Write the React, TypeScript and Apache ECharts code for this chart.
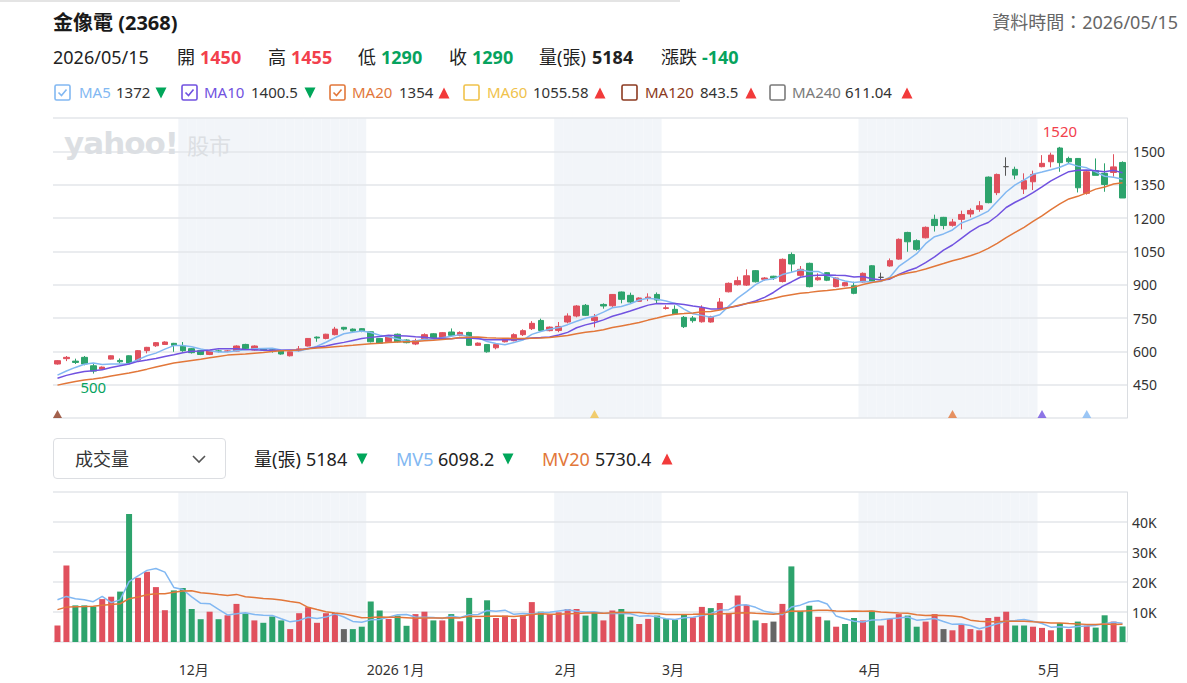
import React, { useEffect, useRef } from "react";
import * as echarts from "echarts";

// ---------- categories (trading days) ----------
const NOV_2025 = [11, 12, 13, 14, 17, 18, 19, 20, 21, 24, 25, 26, 27, 28];
const DEC_2025 = [1, 2, 3, 4, 5, 8, 9, 10, 11, 12, 15, 16, 17, 18, 19, 22, 23, 24, 29, 30, 31];
const JAN_2026 = [2, 5, 6, 7, 8, 9, 12, 13, 14, 15, 16, 19, 20, 21, 22, 23, 26, 27, 28, 29, 30];
const FEB_2026 = [2, 3, 4, 5, 6, 9, 10, 11, 23, 24, 25, 26];
const MAR_2026 = [2, 3, 4, 5, 6, 9, 10, 11, 12, 13, 16, 17, 18, 19, 20, 23, 24, 25, 26, 27, 30, 31];
const APR_2026 = [1, 2, 7, 8, 9, 10, 13, 14, 15, 16, 17, 20, 21, 22, 23, 24, 27, 28, 29, 30];
const MAY_2026 = [4, 5, 6, 7, 8, 11, 12, 13, 14, 15];
const SHADED_MONTHS = ["2025/12", "2026/02", "2026/04"];

// ---------- price data: [open, close, low, high] ----------
const CANDLES = [
  [543, 558, 540, 561], [567, 573, 556, 579], [556, 550, 543, 567], [573, 543, 537, 579], [535, 511, 500, 544],
  [520, 529, 517, 532], [565, 580, 563, 582], [559, 553, 546, 568], [580, 547, 545, 582], [561, 603, 558, 606],
  [603, 618, 591, 620], [625, 639, 620, 642], [631, 642, 629, 645], [636, 627, 598, 638], [624, 603, 598, 642],
  [612, 594, 590, 615], [603, 586, 583, 606], [586, 601, 583, 604], [602, 600, 595, 607], [600, 602, 596, 606],
  [601, 624, 599, 627], [631, 609, 606, 634], [606, 624, 603, 627], [610, 606, 603, 613], [607, 605, 594, 612],
  [603, 588, 585, 606], [580, 598, 577, 600], [608, 611, 598, 624], [624, 658, 622, 660], [664, 660, 643, 667],
  [658, 677, 654, 679], [675, 700, 672, 710], [708, 700, 694, 710], [700, 691, 688, 703], [702, 690, 686, 704],
  [688, 643, 640, 690], [658, 636, 634, 660], [643, 666, 640, 668], [677, 643, 640, 680], [651, 639, 636, 654],
  [633, 648, 628, 657], [657, 675, 654, 681], [679, 660, 657, 682], [663, 684, 660, 687], [687, 672, 666, 703],
  [672, 685, 668, 690], [685, 627, 624, 688], [627, 637, 624, 640], [631, 598, 594, 633], [616, 631, 609, 634],
  [643, 657, 640, 660], [648, 675, 645, 681], [675, 693, 669, 699], [702, 726, 696, 736], [739, 694, 691, 747],
  [693, 709, 690, 712], [694, 712, 686, 732], [732, 759, 726, 771], [759, 804, 753, 808], [807, 762, 759, 813],
  [739, 754, 708, 768], [811, 804, 792, 816], [805, 856, 800, 858], [867, 834, 816, 869], [852, 822, 816, 864],
  [825, 840, 822, 843], [840, 844, 826, 861], [856, 831, 816, 865], [793, 796, 788, 807], [789, 768, 768, 807],
  [753, 711, 705, 759], [750, 738, 729, 759], [733, 796, 729, 807], [732, 756, 729, 760], [792, 822, 789, 840],
  [868, 906, 865, 910], [900, 918, 896, 936], [898, 940, 894, 969], [963, 913, 910, 966], [924, 930, 918, 934],
  [938, 930, 921, 940], [914, 1014, 910, 1018], [1036, 993, 958, 1045], [942, 969, 936, 984], [996, 891, 888, 999],
  [922, 931, 918, 951], [954, 920, 916, 957], [891, 930, 888, 933], [895, 909, 892, 912], [895, 861, 857, 913],
  [912, 951, 909, 955], [985, 915, 912, 988], [933, 933, 921, 954], [984, 1008, 981, 1018], [1015, 1104, 1012, 1108],
  [1135, 1093, 1048, 1138], [1098, 1059, 1053, 1104], [1111, 1158, 1108, 1162], [1194, 1166, 1139, 1215], [1203, 1166, 1149, 1205],
  [1167, 1182, 1161, 1196], [1194, 1216, 1149, 1233], [1218, 1234, 1203, 1243], [1239, 1255, 1228, 1276], [1384, 1269, 1266, 1387],
  [1314, 1396, 1303, 1400], [1431, 1431, 1390, 1473], [1419, 1393, 1374, 1431], [1330, 1368, 1308, 1401], [1363, 1396, 1326, 1413],
  [1431, 1446, 1428, 1483], [1453, 1483, 1428, 1494], [1515, 1449, 1408, 1520], [1468, 1453, 1446, 1476], [1468, 1336, 1315, 1470],
  [1311, 1408, 1305, 1412], [1413, 1392, 1392, 1468], [1401, 1351, 1318, 1446], [1405, 1430, 1386, 1487], [1450, 1290, 1290, 1455],
];
// closes of the 19 sessions before the window (estimated from the MA lines at the left edge)
const PRIOR_CLOSES = [400, 405, 410, 412, 415, 418, 420, 425, 428, 437, 445, 455, 463, 475, 487, 480, 470, 472, 485];

// ---------- volume (張) ----------
const VOLUMES = [
  5500, 25500, 12200, 12200, 11800, 14300, 15100, 16800, 42700, 21400,
  23400, 18300, 10600, 17200, 18000, 11000, 7600, 10100, 7600, 8900,
  12700, 9500, 7200, 6400, 8500, 7200, 4300, 9600, 11600, 6400,
  9600, 9700, 4300, 4300, 5100, 13500, 10500, 7700, 8800, 5400,
  9300, 10100, 7200, 7200, 9300, 6900, 14700, 7700, 13900, 8000,
  8800, 7700, 9000, 13300, 10100, 9300, 9900, 11000, 11000, 8800,
  9900, 7200, 10500, 11000, 8400, 6000, 7700, 8800, 7700, 7400,
  9000, 8200, 11700, 11300, 13000, 9700, 15500, 12400, 7200, 6300,
  6800, 12700, 25200, 10400, 12100, 8400, 7200, 5100, 6000, 8000,
  7200, 10400, 5500, 7700, 9300, 8800, 5100, 6800, 9300, 4300,
  3900, 5800, 4300, 3900, 8000, 8400, 10100, 5500, 5500, 5100,
  4700, 3900, 6300, 4300, 6800, 5500, 4800, 8900, 6800, 5184,
];
const PRIOR_VOLUMES = [9000, 10000, 11000, 9000, 8000, 10000, 12000, 9000, 10000, 9000, 11000, 10000, 8000, 9500, 10000, 20000, 16000, 14000, 15000];

// ---------- styles ----------
const FONT = '"Noto Sans", "Noto Sans CJK TC", sans-serif';
const RED = "#e0505d";
const GREEN = "#2da36c";
const GRAY = "#666666";
const TXT_RED = "#f2404c";
const TXT_GREEN = "#06a35e";
const C_MA5 = "#82b8f2";
const C_MA10 = "#7152e0";
const C_MA20 = "#e2773a";
const C_MA60 = "#f0c24b";
const C_MA120 = "#8c3a20";
const C_MA240 = "#7a7a7a";
const SHADE = "#f2f5f9";
const GRIDLINE = "#e3e6ea";

const MA_MARKERS = [
  { period: 120, color: C_MA120 },
  { period: 60, color: C_MA60 },
  { period: 20, color: C_MA20 },
  { period: 10, color: C_MA10 },
  { period: 5, color: C_MA5 },
];

const pad = (n: number) => (n < 10 ? "0" + n : "" + n);
const DATES: string[] = [
  ...NOV_2025.map((d) => `2025/11/${pad(d)}`),
  ...DEC_2025.map((d) => `2025/12/${pad(d)}`),
  ...JAN_2026.map((d) => `2026/01/${pad(d)}`),
  ...FEB_2026.map((d) => `2026/02/${pad(d)}`),
  ...MAR_2026.map((d) => `2026/03/${pad(d)}`),
  ...APR_2026.map((d) => `2026/04/${pad(d)}`),
  ...MAY_2026.map((d) => `2026/05/${pad(d)}`),
];

function movingAvg(values: number[], prior: number[], n: number) {
  const all = [...prior, ...values];
  const off = prior.length;
  return values.map((_, i) => {
    let s = 0;
    for (let k = off + i - n + 1; k <= off + i; k++) s += all[k];
    return +(s / n).toFixed(2);
  });
}

function buildOption() {
  const N = DATES.length;
  const closes = CANDLES.map((c) => c[1]);
  const ma5 = movingAvg(closes, PRIOR_CLOSES, 5);
  const ma10 = movingAvg(closes, PRIOR_CLOSES, 10);
  const ma20 = movingAvg(closes, PRIOR_CLOSES, 20);
  const mv5 = movingAvg(VOLUMES, PRIOR_VOLUMES, 5);
  const mv20 = movingAvg(VOLUMES, PRIOR_VOLUMES, 20);
  const prevClose = (i: number) => (i === 0 ? PRIOR_CLOSES[PRIOR_CLOSES.length - 1] : closes[i - 1]);
  const volData = VOLUMES.map((v, i) => {
    const c = closes[i];
    const p = prevClose(i);
    return { value: v, itemStyle: { color: c > p ? RED : c < p ? GREEN : GRAY } };
  });
  const shade = DATES.map((d) => (SHADED_MONTHS.includes(d.slice(0, 7)) ? 1 : 0));
  const isMonthStart = (i: number) => i > 0 && DATES[i].slice(0, 7) !== DATES[i - 1].slice(0, 7);
  const monthLabel = (d: string) => {
    const y = d.slice(0, 4);
    const m = parseInt(d.slice(5, 7), 10);
    return m === 1 ? `${y} ${m}月` : `${m}月`;
  };
  const markers = MA_MARKERS.map((m) => ({ value: [DATES[N - m.period], 300], itemStyle: { color: m.color } }));

  const hiddenCat = (grid: number) => ({
    type: "category",
    gridIndex: grid,
    data: DATES,
    show: false,
    boundaryGap: true,
  });

  return {
    animation: false,
    textStyle: { fontFamily: FONT },
    grid: [
      { left: 53, right: 60, top: 118, height: 300 },
      { left: 53, right: 60, top: 492, height: 150 },
    ],
    xAxis: [
      {
        type: "category",
        gridIndex: 0,
        data: DATES,
        boundaryGap: true,
        axisLine: { show: false },
        axisTick: { show: false },
        axisLabel: { show: false },
        splitLine: { show: false },
      },
      {
        type: "category",
        gridIndex: 1,
        data: DATES,
        boundaryGap: true,
        axisLine: { show: false },
        axisTick: { show: false },
        splitLine: { show: false },
        axisLabel: {
          interval: (i: number) => isMonthStart(i),
          formatter: (v: string) => monthLabel(v),
          align: "left",
          color: "#333",
          fontSize: 14,
          margin: 20,
          padding: [0, 0, 0, -4],
        },
      },
      hiddenCat(0),
      hiddenCat(1),
    ],
    yAxis: [
      {
        type: "value",
        gridIndex: 0,
        position: "right",
        min: 300,
        max: 1650,
        interval: 150,
        axisLine: { show: true, lineStyle: { color: "#dadde1" } },
        axisTick: { show: false },
        axisLabel: {
          showMinLabel: false,
          showMaxLabel: false,
          color: "#333",
          fontSize: 14,
          margin: 6,
          formatter: (v: number) => String(v),
        },
        splitLine: { lineStyle: { color: GRIDLINE, width: 1.5 } },
      },
      {
        type: "value",
        gridIndex: 1,
        position: "right",
        min: 0,
        max: 50000,
        interval: 10000,
        axisLine: { show: true, lineStyle: { color: "#dadde1" } },
        axisTick: { show: false },
        axisLabel: {
          showMinLabel: false,
          showMaxLabel: false,
          color: "#333",
          fontSize: 14,
          margin: 5,
          formatter: (v: number) => `${v / 1000}K`,
        },
        splitLine: { lineStyle: { color: GRIDLINE, width: 1.5 } },
      },
      { type: "value", gridIndex: 0, min: 0, max: 1, show: false, position: "left" },
      { type: "value", gridIndex: 1, min: 0, max: 1, show: false, position: "left" },
    ],
    series: [
      {
        type: "bar",
        xAxisIndex: 2,
        yAxisIndex: 2,
        data: shade,
        barWidth: "100%",
        barCategoryGap: "0%",
        itemStyle: { color: SHADE },
        silent: true,
        z: -1,
      },
      {
        type: "bar",
        xAxisIndex: 3,
        yAxisIndex: 3,
        data: shade,
        barWidth: "100%",
        barCategoryGap: "0%",
        itemStyle: { color: SHADE },
        silent: true,
        z: -1,
      },
      {
        type: "candlestick",
        xAxisIndex: 0,
        yAxisIndex: 0,
        data: CANDLES,
        barWidth: 6,
        itemStyle: {
          color: RED,
          color0: GREEN,
          borderColor: RED,
          borderColor0: GREEN,
          borderColorDoji: "#555",
          borderWidth: 1,
        },
        markPoint: {
          symbol: "circle",
          symbolSize: 2,
          itemStyle: { color: "rgba(0,0,0,0)" },
          data: [
            {
              type: "max",
              valueDim: "highest",
              label: { show: true, position: "top", distance: 7, color: TXT_RED, fontSize: 15 },
            },
            {
              type: "min",
              valueDim: "lowest",
              label: { show: true, position: "bottom", distance: 5, color: TXT_GREEN, fontSize: 15 },
            },
          ],
          label: { formatter: (p: any) => `${p.value}` },
        },
      },
      {
        type: "line",
        xAxisIndex: 0,
        yAxisIndex: 0,
        data: ma5,
        showSymbol: false,
        lineStyle: { color: C_MA5, width: 1.5 },
        itemStyle: { color: C_MA5 },
        z: 4,
      },
      {
        type: "line",
        xAxisIndex: 0,
        yAxisIndex: 0,
        data: ma10,
        showSymbol: false,
        lineStyle: { color: C_MA10, width: 1.5 },
        itemStyle: { color: C_MA10 },
        z: 4,
      },
      {
        type: "line",
        xAxisIndex: 0,
        yAxisIndex: 0,
        data: ma20,
        showSymbol: false,
        lineStyle: { color: C_MA20, width: 1.5 },
        itemStyle: { color: C_MA20 },
        z: 4,
      },
      {
        type: "scatter",
        xAxisIndex: 0,
        yAxisIndex: 0,
        data: markers,
        symbol: "triangle",
        symbolSize: [9, 8],
        symbolOffset: [0, -4],
        z: 5,
      },
      {
        type: "bar",
        xAxisIndex: 1,
        yAxisIndex: 1,
        data: volData,
        barWidth: 6,
      },
      {
        type: "line",
        xAxisIndex: 1,
        yAxisIndex: 1,
        data: mv5,
        showSymbol: false,
        lineStyle: { color: C_MA5, width: 1.5 },
        itemStyle: { color: C_MA5 },
        z: 4,
      },
      {
        type: "line",
        xAxisIndex: 1,
        yAxisIndex: 1,
        data: mv20,
        showSymbol: false,
        lineStyle: { color: C_MA20, width: 1.5 },
        itemStyle: { color: C_MA20 },
        z: 4,
      },
    ],
  };
}

// ---------- HTML pieces ----------
function T(props: { x: number; y: number; size?: number; color?: string; bold?: boolean; right?: boolean; children: any }) {
  const size = props.size ?? 16;
  const style: any = {
    position: "absolute",
    top: props.y - (size + 4) / 2,
    fontSize: size,
    lineHeight: `${size + 4}px`,
    color: props.color ?? "#222",
    fontWeight: props.bold ? 700 : 400,
    whiteSpace: "nowrap",
    fontFamily: FONT,
  };
  if (props.right) style.right = 1187 - props.x;
  else style.left = props.x;
  return <div style={style}>{props.children}</div>;
}

function CheckBox({ x, y, color, checked }: { x: number; y: number; color: string; checked: boolean }) {
  return (
    <svg style={{ position: "absolute", left: x, top: y - 8 }} width={17} height={17}>
      <rect x={1} y={1} width={15} height={15} rx={1.5} fill="#fff" stroke={color} strokeWidth={1.6} />
      {checked && <polyline points="4.5,8.5 7.5,11.5 12.5,5.5" fill="none" stroke={color} strokeWidth={1.6} />}
    </svg>
  );
}

const LEGEND = [
  { name: "MA5", color: C_MA5, checked: true, value: "1372", up: false, cb: 54, nx: 79, vx: 116, ax: 155 },
  { name: "MA10", color: C_MA10, checked: true, value: "1400.5", up: false, cb: 181, nx: 204, vx: 251, ax: 304 },
  { name: "MA20", color: C_MA20, checked: true, value: "1354", up: true, cb: 329, nx: 352, vx: 399, ax: 438 },
  { name: "MA60", color: C_MA60, checked: false, value: "1055.58", up: true, cb: 463, nx: 487, vx: 533, ax: 594 },
  { name: "MA120", color: C_MA120, checked: false, value: "843.5", up: true, cb: 621, nx: 645, vx: 700, ax: 745 },
  { name: "MA240", color: C_MA240, checked: false, value: "611.04", up: true, cb: 769, nx: 792, vx: 845, ax: 901 },
];

function Arrow({ x, y, up }: { x: number; y: number; up: boolean }) {
  return (
    <svg style={{ position: "absolute", left: x, top: y - 6 }} width={12} height={12}>
      {up ? (
        <polygon points="6,0.5 11.5,11.5 0.5,11.5" fill="#f23a3a" />
      ) : (
        <polygon points="0.5,0.5 11.5,0.5 6,11.5" fill="#00a65a" />
      )}
    </svg>
  );
}

export default function App() {
  const ref = useRef<HTMLDivElement>(null);
  useEffect(() => {
    if (!ref.current) return;
    const chart = echarts.init(ref.current, undefined, { renderer: "svg" });
    chart.setOption(buildOption() as any);
    return () => chart.dispose();
  }, []);

  return (
    <div style={{ position: "absolute", left: 0, top: 0, width: 1187, height: 683, background: "#fff", overflow: "hidden", fontFamily: FONT }}>
      <div ref={ref} style={{ position: "absolute", left: 0, top: 0, width: 1187, height: 683 }} />
      <div style={{ position: "absolute", left: 0, top: 0, width: 680, height: 2, background: "#e4e4e4" }} />

      {/* watermark */}
      <div
        style={{
          position: "absolute",
          left: 64,
          top: 124,
          fontFamily: '"DejaVu Sans", sans-serif',
          fontWeight: 700,
          fontSize: 31,
          lineHeight: "38px",
          letterSpacing: -1,
          color: "#dcdfe3",
          whiteSpace: "nowrap",
          pointerEvents: "none",
        }}
      >
        yahoo!
      </div>
      <div
        style={{
          position: "absolute",
          left: 187,
          top: 131,
          fontFamily: FONT,
          fontSize: 22,
          lineHeight: "28px",
          color: "#dcdfe3",
          whiteSpace: "nowrap",
          pointerEvents: "none",
        }}
      >
        股市
      </div>

      <T x={53} y={23} size={20} bold color="#1a1a1a">金像電 (2368)</T>
      <T x={1178} y={22} size={18} color="#666" right>資料時間：2026/05/15</T>

      <T x={53} y={57} size={18}>2026/05/15</T>
      <T x={177} y={57} size={18}>開</T>
      <T x={200} y={57} size={18} bold color={TXT_RED}>1450</T>
      <T x={268} y={57} size={18}>高</T>
      <T x={291} y={57} size={18} bold color={TXT_RED}>1455</T>
      <T x={358} y={57} size={18}>低</T>
      <T x={381} y={57} size={18} bold color={TXT_GREEN}>1290</T>
      <T x={449} y={57} size={18}>收</T>
      <T x={472} y={57} size={18} bold color={TXT_GREEN}>1290</T>
      <T x={539} y={57} size={18}>量(張)</T>
      <T x={592} y={57} size={18} bold>5184</T>
      <T x={661} y={57} size={18}>漲跌</T>
      <T x={702} y={57} size={18} bold color={TXT_GREEN}>-140</T>

      {LEGEND.map((l) => (
        <React.Fragment key={l.name}>
          <CheckBox x={l.cb} y={92} color={l.color} checked={l.checked} />
          <T x={l.nx} y={92} size={15} color={l.color}>{l.name}</T>
          <T x={l.vx} y={92} size={15} color="#333">{l.value}</T>
          <Arrow x={l.ax} y={93} up={l.up} />
        </React.Fragment>
      ))}

      <div
        style={{
          position: "absolute",
          left: 53,
          top: 438,
          width: 171,
          height: 39,
          border: "1.5px solid #dcdee2",
          borderRadius: 4,
          background: "#fff",
        }}
      />
      <T x={75} y={459} size={18} color="#333">成交量</T>
      <svg style={{ position: "absolute", left: 191, top: 453 }} width={16} height={12}>
        <polyline points="2,3 8,9 14,3" fill="none" stroke="#555" strokeWidth={1.6} />
      </svg>

      <T x={254} y={459} size={18}>量(張)</T>
      <T x={306} y={459} size={18}>5184</T>
      <Arrow x={356} y={459} up={false} />
      <T x={396} y={459} size={18} color={C_MA5}>MV5</T>
      <T x={438} y={459} size={18}>6098.2</T>
      <Arrow x={502} y={459} up={false} />
      <T x={542} y={459} size={18} color={C_MA20}>MV20</T>
      <T x={595} y={459} size={18}>5730.4</T>
      <Arrow x={661} y={459} up={true} />
    </div>
  );
}
